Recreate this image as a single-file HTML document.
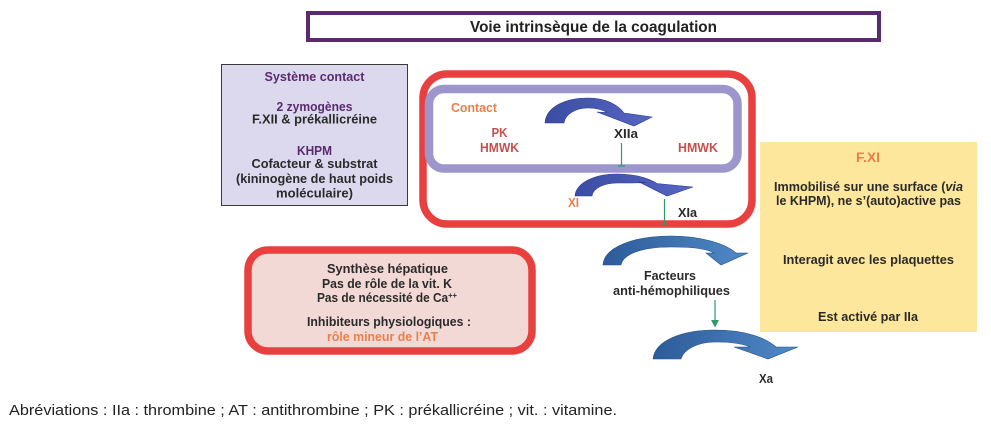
<!DOCTYPE html>
<html>
<head>
<meta charset="utf-8">
<style>
  html,body{margin:0;padding:0;background:#fff;}
  svg{display:block;}
  text{font-family:"Liberation Sans",Arial,sans-serif;font-weight:bold;font-size:12.5px;}
  .d{fill:#2a2a2a;}
  .p{fill:#5b2a6e;}
  .o{fill:#e8804a;}
  .r{fill:#c5504e;}
</style>
</head>
<body>
<svg width="991" height="426" viewBox="0 0 991 426" xmlns="http://www.w3.org/2000/svg">
  <defs>
    <linearGradient id="gA" x1="0" y1="0" x2="1" y2="0">
      <stop offset="0" stop-color="#3b4ca4"/>
      <stop offset="1" stop-color="#5667c2"/>
    </linearGradient>
    <linearGradient id="gB" x1="0" y1="0" x2="1" y2="0">
      <stop offset="0" stop-color="#2d5b99"/>
      <stop offset="1" stop-color="#5189c8"/>
    </linearGradient>
  </defs>
  <rect x="0" y="0" width="991" height="426" fill="#fff"/>

  <!-- Title -->
  <rect x="308" y="13" width="571" height="27" fill="#fff" stroke="#5b2a6e" stroke-width="4"/>
  <text x="593.5" y="32" text-anchor="middle" textLength="247" lengthAdjust="spacingAndGlyphs" style="font-size:15.5px" fill="#222">Voie intrinsèque de la coagulation</text>

  <!-- Left box -->
  <rect x="221.5" y="64.5" width="186" height="141" fill="#dcd9ee" stroke="#3a3a3a" stroke-width="1"/>
  <text class="p" x="314.5" y="81" text-anchor="middle" textLength="100" lengthAdjust="spacingAndGlyphs">Système contact</text>
  <text class="p" x="314.5" y="111" text-anchor="middle" textLength="76" lengthAdjust="spacingAndGlyphs">2 zymogènes</text>
  <text class="d" x="314.5" y="123.5" text-anchor="middle" textLength="125" lengthAdjust="spacingAndGlyphs">F.XII &amp; prékallicréine</text>
  <text class="p" x="314.5" y="155" text-anchor="middle" textLength="35" lengthAdjust="spacingAndGlyphs">KHPM</text>
  <text class="d" x="314.5" y="168" text-anchor="middle" textLength="126" lengthAdjust="spacingAndGlyphs">Cofacteur &amp; substrat</text>
  <text class="d" x="314.5" y="183" text-anchor="middle" textLength="157" lengthAdjust="spacingAndGlyphs">(kininogène de haut poids</text>
  <text class="d" x="314.5" y="197.5" text-anchor="middle" textLength="77" lengthAdjust="spacingAndGlyphs">moléculaire)</text>

  <!-- Contact group -->
  <rect x="423" y="74" width="329" height="150" rx="24" ry="24" fill="#fff" stroke="#e8403f" stroke-width="7.5"/>
  <rect x="429" y="89" width="308.5" height="79.5" rx="15" ry="15" fill="#fff" stroke="#9d96cc" stroke-width="8.5"/>

  <text class="o" x="451" y="112" textLength="46" lengthAdjust="spacingAndGlyphs">Contact</text>
  <text class="r" x="499.5" y="137" text-anchor="middle" textLength="16" lengthAdjust="spacingAndGlyphs">PK</text>
  <text class="r" x="499.5" y="152" text-anchor="middle" textLength="39" lengthAdjust="spacingAndGlyphs">HMWK</text>
  <text class="d" x="626" y="138" text-anchor="middle" textLength="24" lengthAdjust="spacingAndGlyphs">XIIa</text>
  <text class="r" x="698" y="152" text-anchor="middle" textLength="40" lengthAdjust="spacingAndGlyphs">HMWK</text>
  <text class="o" x="573.5" y="207" text-anchor="middle" textLength="11" lengthAdjust="spacingAndGlyphs">XI</text>
  <text class="d" x="687.5" y="217" text-anchor="middle" textLength="19" lengthAdjust="spacingAndGlyphs">XIa</text>

  <!-- Arrow 1 -->
  <path d="M545,123 C546,107 565,98 588,98 C606,98 618,105 624,113 L652,117 L634,126 L597,112 L607,112.5 C601,109 595,108 588,108 C576,108 565,114 564,123 Z" fill="url(#gA)" stroke="#2c3b8c" stroke-width="0.6"/>
  <!-- Arrow 2 -->
  <path d="M575,196 C576,183 594,174 617,174 C636,174 650,179 657,183.5 L693,187 L667,196 L639,182 L646,182.5 C638,183 628,183 618,183 C604,183 593,188 592,196 Z" fill="url(#gA)" stroke="#2c3b8c" stroke-width="0.6"/>

  <!-- Green connectors -->
  <line x1="621.5" y1="143" x2="621.5" y2="166" stroke="#2f9a6c" stroke-width="1.2"/>
  <line x1="618" y1="166" x2="625" y2="166" stroke="#2f9a6c" stroke-width="1.2"/>
  <line x1="664.5" y1="199" x2="664.5" y2="224" stroke="#2f9a6c" stroke-width="1.2"/>
  <line x1="661" y1="224" x2="668" y2="224" stroke="#2f9a6c" stroke-width="1.2"/>

  <!-- Arrow 3 -->
  <path d="M603,265 C604,247 634,236 671,236 C702,236 726,244 736,253 L748,253 L721,265 L706,253 L714,253 C705,248 690,247 671,247 C642,247 623,254 621,265 Z" fill="url(#gB)" stroke="#25508a" stroke-width="0.6"/>
  <text class="d" x="670" y="280" text-anchor="middle" textLength="52" lengthAdjust="spacingAndGlyphs">Facteurs</text>
  <text class="d" x="671.5" y="295" text-anchor="middle" textLength="117" lengthAdjust="spacingAndGlyphs">anti-hémophiliques</text>

  <line x1="715" y1="300" x2="715" y2="321" stroke="#2f9a6c" stroke-width="1.2"/>
  <path d="M711,320 L719,320 L715,327.5 Z" fill="#2f9a6c"/>

  <!-- Arrow 4 -->
  <path d="M653,359 C655,340 683,330 715,330 C746,330 766,338 776,347 L798,347 L768,359 L734,347 L750,347 C741,343 730,342 716,342 C698,342 684,349 681,359 Z" fill="url(#gB)" stroke="#25508a" stroke-width="0.6"/>
  <text class="d" x="766" y="383" text-anchor="middle" textLength="14" lengthAdjust="spacingAndGlyphs">Xa</text>

  <!-- Yellow box -->
  <rect x="760" y="142" width="217" height="190" fill="#fce79c"/>
  <text class="o" x="868" y="162" text-anchor="middle" textLength="24" lengthAdjust="spacingAndGlyphs" style="font-size:14px">F.XI</text>
  <text class="d" x="868.5" y="191" text-anchor="middle" textLength="189" lengthAdjust="spacingAndGlyphs">Immobilisé sur une surface (<tspan font-style="italic">via</tspan></text>
  <text class="d" x="868.5" y="205" text-anchor="middle" textLength="185" lengthAdjust="spacingAndGlyphs">le KHPM), ne s’(auto)active pas</text>
  <text class="d" x="868.5" y="264" text-anchor="middle" textLength="171" lengthAdjust="spacingAndGlyphs">Interagit avec les plaquettes</text>
  <text class="d" x="868" y="321" text-anchor="middle" textLength="100" lengthAdjust="spacingAndGlyphs">Est activé par IIa</text>

  <!-- Lower red box -->
  <rect x="248" y="250" width="284" height="101" rx="20" ry="20" fill="#f3d9d6" stroke="#e8403f" stroke-width="7.5"/>
  <text class="d" x="387.5" y="273" text-anchor="middle" textLength="121" lengthAdjust="spacingAndGlyphs">Synthèse hépatique</text>
  <text class="d" x="387" y="288" text-anchor="middle" textLength="130" lengthAdjust="spacingAndGlyphs">Pas de rôle de la vit. K</text>
  <text class="d" x="387" y="302" text-anchor="middle" textLength="140" lengthAdjust="spacingAndGlyphs">Pas de nécessité de Ca<tspan dy="-4" style="font-size:8px">++</tspan></text>
  <text class="d" x="389" y="326" text-anchor="middle" textLength="164" lengthAdjust="spacingAndGlyphs">Inhibiteurs physiologiques :</text>
  <text class="o" x="382.5" y="341" text-anchor="middle" textLength="111" lengthAdjust="spacingAndGlyphs">rôle mineur de l’AT</text>

  <!-- Footer -->
  <text x="9" y="415" textLength="608" lengthAdjust="spacingAndGlyphs" fill="#222" style="font-family:'Liberation Sans Narrow','Liberation Sans',Arial,sans-serif;font-weight:normal;font-size:14.5px">Abréviations : IIa : thrombine ; AT : antithrombine ; PK : prékallicréine  ; vit. : vitamine.</text>
</svg>
</body>
</html>
